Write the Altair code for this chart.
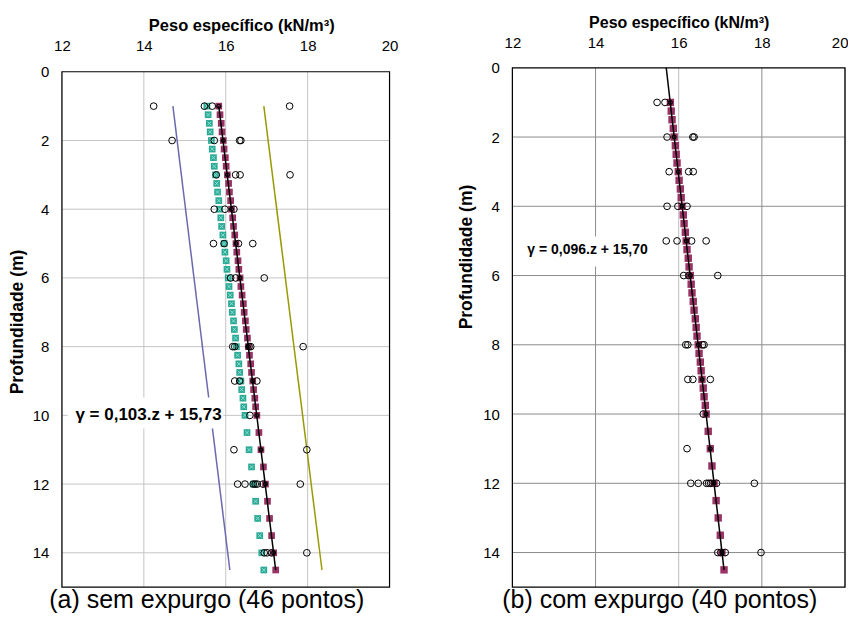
import altair as alt
import pandas as pd

FONT = "Liberation Sans"

# ---------------- data ----------------
# measured points kept in both panels (depth m, unit weight kN/m3)
obs_depth = [1, 1, 2, 2, 2, 3, 3, 3, 4, 4, 4, 5, 5, 5, 5, 6, 6, 6,
             8, 8, 8, 8, 9, 9, 9, 10, 11,
             12, 12, 12, 12, 12, 12, 12, 14, 14, 14, 14]
obs_gamma = [15.48, 15.67, 15.72, 16.34, 16.37, 15.77, 16.24, 16.35,
             15.72, 15.98, 16.20, 15.70, 15.96, 16.31, 16.66, 16.12, 16.24, 16.94,
             16.17, 16.22, 16.57, 16.61, 16.22, 16.34, 16.76, 16.59, 16.20,
             16.29, 16.47, 16.67, 16.72, 16.77, 16.91, 17.82, 16.94, 17.01, 17.12, 17.98]
# points removed in panel (b)
out_depth = [1, 1, 2, 3, 8, 11]
out_gamma = [14.24, 17.56, 14.69, 17.57, 17.89, 17.98]

# regression-series depths
reg_depth = [1, 1.25, 1.5, 1.75, 2, 2.25, 2.5, 2.75, 3, 3.25, 3.5, 3.75, 4, 4.25, 4.5, 4.75,
             5, 5.25, 5.5, 5.75, 6, 6.25, 6.5, 6.75, 7, 7.25, 7.5, 7.75, 8, 8.25, 8.5, 8.75,
             9, 9.25, 9.5, 9.75, 10, 10.5, 11, 11.5, 12, 12.5, 13, 13.5, 14, 14.5]
reg_a = [15.83, 15.86, 15.89, 15.91, 15.94, 15.96, 15.99, 16.01, 16.04, 16.07, 16.09, 16.12,
         16.14, 16.17, 16.19, 16.22, 16.25, 16.27, 16.30, 16.32, 16.35, 16.37, 16.40, 16.43,
         16.45, 16.48, 16.50, 16.53, 16.55, 16.58, 16.61, 16.63, 16.66, 16.68, 16.71, 16.73,
         16.76, 16.81, 16.86, 16.92, 16.97, 17.02, 17.07, 17.12, 17.17, 17.22]
char_a = [15.54, 15.57, 15.60, 15.62, 15.65, 15.67, 15.70, 15.72, 15.75, 15.78, 15.80, 15.83,
          15.85, 15.88, 15.90, 15.93, 15.96, 15.98, 16.01, 16.03, 16.06, 16.08, 16.11, 16.14,
          16.16, 16.19, 16.21, 16.24, 16.26, 16.29, 16.32, 16.34, 16.37, 16.39, 16.42, 16.44,
          16.47, 16.52, 16.57, 16.63, 16.68, 16.73, 16.78, 16.83, 16.88, 16.93]
reg_b = [15.80, 15.82, 15.84, 15.87, 15.89, 15.92, 15.94, 15.96, 15.99, 16.01, 16.04, 16.06,
         16.08, 16.11, 16.13, 16.16, 16.18, 16.20, 16.23, 16.25, 16.28, 16.30, 16.32, 16.35,
         16.37, 16.40, 16.42, 16.44, 16.47, 16.49, 16.52, 16.54, 16.56, 16.59, 16.61, 16.64,
         16.66, 16.71, 16.76, 16.80, 16.85, 16.90, 16.95, 17.00, 17.04, 17.09]

# small markers on the fitted line at the sampled depths
mark_depth = [1, 2, 3, 4, 5, 6, 8, 9, 10, 11, 12, 14]
mark_a = [15.83, 15.94, 16.04, 16.14, 16.25, 16.35, 16.55, 16.66, 16.76, 16.86, 16.97, 17.17]
mark_b = [15.80, 15.89, 15.99, 16.08, 16.18, 16.28, 16.47, 16.56, 16.66, 16.76, 16.85, 17.04]

# fitted lines (end points)
line_a_depth = [1, 14.5]
line_a_gamma = [15.83, 17.22]
line_b_depth = [0, 14.5]
line_b_gamma = [15.70, 17.09]
lower_a = [14.71, 16.10]
upper_a = [16.93, 18.35]

eq_a = "γ = 0,103.z + 15,73"
eq_b = "γ = 0,096.z + 15,70"

x_ticks = [12, 14, 16, 18, 20]
y_ticks = [0, 2, 4, 6, 8, 10, 12, 14]
x_range = [12, 20]
y_range = [0, 15]


def panel(height, y_dom, circ_d, circ_g, sq_g, sq_size, extra, line_d, line_g,
          mk_g, eq, eq_pos, eq_size, box, caption, cap_dx, grid_cols, title_x, title_y,
          ytitle_size, xtitle_size, xtitle_x, lab_size, lab_pad, title_pad, right_flush):
    width = 328 if extra is not None else 333
    xs = alt.Scale(domain=x_range, nice=False, zero=False)
    ys = alt.Scale(domain=y_dom, reverse=True, nice=False, zero=False)
    lab_align = "center"
    lab_off = 0
    if right_flush:
        lab_align = alt.condition("datum.value == 20", alt.value("right"), alt.value("center"))
        lab_off = alt.condition("datum.value == 20", alt.value(3), alt.value(0))
    xax_args = dict(orient="top", values=x_ticks, title="Peso específico (kN/m³)",
                    titleFont=FONT, titleFontSize=xtitle_size, titleFontWeight="bold",
                    titleColor="black", titlePadding=title_pad, labelFont=FONT,
                    labelFontSize=lab_size, labelColor="black", labelPadding=lab_pad,
                    labelAlign=lab_align, labelOffset=lab_off,
                    ticks=False, domain=False, grid=False, labelFlush=False)
    if xtitle_x is not None:
        xax_args["titleX"] = xtitle_x
    xax = alt.Axis(**xax_args)
    yax = alt.Axis(values=y_ticks, title="Profundidade (m)", titleFont=FONT,
                   titleFontSize=ytitle_size, titleFontWeight="bold", titleColor="black",
                   titleX=title_x, titleY=title_y, titleBaseline="middle", titleAngle=270,
                   labelFont=FONT, labelFontSize=15, labelColor="black",
                   labelPadding=13, ticks=False, domain=False, grid=False)

    def X(f="g"):
        return alt.X(f + ":Q", scale=xs, axis=xax)

    def Y(f="d"):
        return alt.Y(f + ":Q", scale=ys, axis=yax)

    layers = []
    # grid lines drawn as rules over the depth / weight ranges
    vg = pd.DataFrame({"g": x_ticks, "d": [y_range[0]] * 5, "d1": [y_range[1]] * 5,
                       "c": grid_cols})
    layers.append(alt.Chart(vg).mark_rule(strokeWidth=1).encode(
        x=X(), y=Y(), y2="d1:Q", color=alt.Color("c:N", scale=None)))
    hg = pd.DataFrame({"d": y_ticks[1:], "g": [x_range[0]] * 7, "g1": [x_range[1]] * 7})
    layers.append(alt.Chart(hg).mark_rule(strokeWidth=1, color=grid_cols[0]).encode(
        y=Y(), x=X(), x2="g1:Q"))

    if extra is not None:
        lo, hi = extra
        bdf = pd.DataFrame({"d": line_a_depth * 2, "g": lo + hi,
                            "s": ["lo", "lo", "hi", "hi"]})
        layers.append(alt.Chart(bdf[bdf.s == "lo"]).mark_line(
            color="#6a6aae", strokeWidth=1.5).encode(x=X(), y=Y(), order="d:Q"))
        layers.append(alt.Chart(bdf[bdf.s == "hi"]).mark_line(
            color="#999900", strokeWidth=1.5).encode(x=X(), y=Y(), order="d:Q"))

    # white box behind equation
    bx = pd.DataFrame({"g": [box[0]], "g1": [box[1]], "d": [box[2]], "d1": [box[3]]})
    layers.append(alt.Chart(bx).mark_rect(color="white").encode(
        x=X(), x2="g1:Q", y=Y(), y2="d1:Q"))

    if extra is not None:
        tdf = pd.DataFrame({"d": reg_depth, "g": char_a})
        layers.append(alt.Chart(tdf).mark_square(size=sq_size, color="#2aa995", opacity=1)
                      .encode(x=X(), y=Y()))
        layers.append(alt.Chart(tdf).mark_point(
            shape="M-0.7,-0.7L0.7,0.7M0.7,-0.7L-0.7,0.7", size=sq_size * 0.6,
            color="#8fe0d4", strokeWidth=1, filled=False, opacity=1)
            .encode(x=X(), y=Y()))

    sdf = pd.DataFrame({"d": reg_depth, "g": sq_g})
    layers.append(alt.Chart(sdf).mark_square(size=sq_size, color="#993366", opacity=1)
                  .encode(x=X(), y=Y()))

    ldf = pd.DataFrame({"d": line_d, "g": line_g})
    layers.append(alt.Chart(ldf).mark_line(color="black", strokeWidth=1.5)
                  .encode(x=X(), y=Y(), order="d:Q"))
    mdf = pd.DataFrame({"d": mark_depth, "g": mk_g})
    layers.append(alt.Chart(mdf).mark_point(shape="circle", filled=False, color="black",
                                            size=14, strokeWidth=1.2, opacity=1)
                  .encode(x=X(), y=Y()))

    cdf = pd.DataFrame({"d": circ_d, "g": circ_g})
    layers.append(alt.Chart(cdf).mark_point(shape="circle", filled=False, color="black",
                                            size=45, strokeWidth=1, opacity=1)
                  .encode(x=X(), y=Y()))

    edf = pd.DataFrame({"g": [eq_pos[0]], "d": [eq_pos[1]], "t": [eq]})
    layers.append(alt.Chart(edf).mark_text(align="left", baseline="middle", font=FONT,
                                           fontSize=eq_size, fontWeight="bold",
                                           color="black")
                  .encode(x=X(), y=Y(), text="t:N"))

    # plot frame
    fr = pd.DataFrame({"g": [x_range[0]], "g1": [x_range[1]],
                       "d": [y_range[0]], "d1": [y_range[1]]})
    layers.append(alt.Chart(fr).mark_rect(fill=None, stroke="black", strokeWidth=1.2,
                                          fillOpacity=0).encode(
        x=X(), x2="g1:Q", y=Y(), y2="d1:Q"))

    return alt.layer(*layers).properties(
        width=width, height=height,
        title=alt.TitleParams(caption, orient="bottom", font=FONT, fontSize=25,
                              fontWeight="normal", color="black", offset=0,
                              anchor="middle", dx=cap_dx))


left = panel(520, [-0.116, 15], obs_depth + out_depth, obs_gamma + out_gamma, reg_a, 45,
             (lower_a, upper_a), line_a_depth, line_a_gamma, mark_a, eq_a, (12.33, 10.0),
             17, (12.14, 15.94, 9.48, 10.38), "(a) sem expurgo (46 pontos)", -19,
             ["#c4c4c4"] * 5, -44, 254, 17.5, 16.5, 179.5, 15, 14, 5.5, False)
right = panel(520, [0, 15], obs_depth, obs_gamma, reg_b, 55, None,
              line_b_depth, line_b_gamma, mark_b, eq_b, (12.36, 5.27), 14,
              (12.26, 15.38, 4.87, 5.74), "(b) com expurgo (40 pontos)", -19,
              ["#8c8c8c", "#8c8c8c", "#bdbdbd", "#8c8c8c", "#8c8c8c"],
              -46, 189, 17.5, 16, None, 15, 17.5, 4.5, True)

chart = alt.hconcat(left, right, spacing=59).configure_view(
    strokeWidth=0).properties(
    padding={"left": 1, "top": 6.5, "right": 0, "bottom": 0})

chart.save("out.html", embed_options={"renderer": "svg", "actions": False})
